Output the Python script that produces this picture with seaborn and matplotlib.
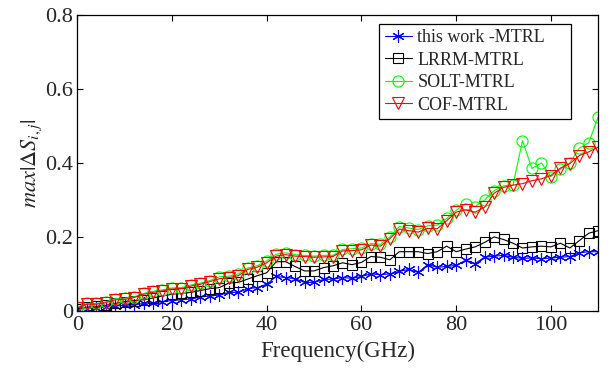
import numpy as np
import pandas as pd
import matplotlib
matplotlib.use("Agg")
import matplotlib.pyplot as plt
import seaborn as sns

# Frequency points (GHz), 2 GHz step
freq = list(range(0, 112, 2))

this_work = [0.005, 0.006, 0.008, 0.010, 0.013, 0.015, 0.016, 0.020, 0.022, 0.025,
             0.028, 0.030, 0.032, 0.038, 0.040, 0.043, 0.050, 0.050, 0.060, 0.063,
             0.072, 0.093, 0.090, 0.087, 0.077, 0.077, 0.085, 0.086, 0.090, 0.088,
             0.093, 0.100, 0.098, 0.100, 0.107, 0.112, 0.104, 0.125, 0.118, 0.120,
             0.123, 0.137, 0.128, 0.145, 0.148, 0.150, 0.145, 0.142, 0.143, 0.141,
             0.143, 0.145, 0.147, 0.157, 0.160, 0.160]

lrrm = [0.005, 0.010, 0.012, 0.015, 0.020, 0.025, 0.028, 0.030, 0.035, 0.040,
        0.045, 0.047, 0.050, 0.055, 0.060, 0.063, 0.075, 0.077, 0.086, 0.095,
        0.103, 0.133, 0.133, 0.120, 0.108, 0.108, 0.117, 0.122, 0.130, 0.125,
        0.131, 0.147, 0.145, 0.138, 0.160, 0.160, 0.160, 0.155, 0.160, 0.175,
        0.160, 0.167, 0.173, 0.185, 0.200, 0.193, 0.183, 0.170, 0.173, 0.175,
        0.173, 0.183, 0.170, 0.190, 0.210, 0.217]

solt = [0.010, 0.020, 0.020, 0.024, 0.033, 0.034, 0.038, 0.047, 0.053, 0.057,
        0.062, 0.063, 0.070, 0.075, 0.082, 0.092, 0.094, 0.100, 0.116, 0.122,
        0.135, 0.153, 0.157, 0.152, 0.150, 0.148, 0.150, 0.150, 0.166, 0.168,
        0.170, 0.182, 0.180, 0.200, 0.228, 0.224, 0.220, 0.230, 0.232, 0.250,
        0.272, 0.290, 0.282, 0.300, 0.325, 0.338, 0.340, 0.460, 0.385, 0.400,
        0.363, 0.383, 0.400, 0.440, 0.455, 0.525]

cof = [0.008, 0.018, 0.018, 0.022, 0.030, 0.031, 0.036, 0.045, 0.050, 0.054,
       0.059, 0.060, 0.067, 0.072, 0.079, 0.087, 0.090, 0.095, 0.112, 0.118,
       0.130, 0.148, 0.152, 0.148, 0.147, 0.145, 0.146, 0.147, 0.162, 0.163,
       0.165, 0.178, 0.175, 0.195, 0.221, 0.217, 0.213, 0.223, 0.222, 0.244,
       0.267, 0.273, 0.267, 0.280, 0.318, 0.334, 0.340, 0.344, 0.352, 0.357,
       0.366, 0.386, 0.398, 0.420, 0.430, 0.443]

series_names = ["this work -MTRL", "LRRM-MTRL", "SOLT-MTRL", "COF-MTRL"]
series_vals = [this_work, lrrm, solt, cof]
colors = ["#0000ff", "#000000", "#00ff00", "#ff0000"]
# MATLAB-like asterisk: 6-arm line marker
markers = [(6, 2, 0), "s", "o", "v"]
msizes = [9, 7, 8, 8]

sns.set_style("ticks")
plt.rcParams["font.family"] = ["Liberation Serif", "DejaVu Serif"]
plt.rcParams["mathtext.fontset"] = "stix"
plt.rcParams["xtick.direction"] = "in"
plt.rcParams["ytick.direction"] = "in"

fig = plt.figure(figsize=(6.08, 3.75), dpi=100)
ax = fig.add_axes([0.127, 0.171, 0.857, 0.789])

for name, vals, c, m, ms in zip(series_names, series_vals, colors, markers, msizes):
    sns.lineplot(x=freq, y=vals, ax=ax, color=c, marker=m, markersize=ms,
                 markerfacecolor="none", markeredgecolor=c, markeredgewidth=0.8,
                 linewidth=0.8, label=name)

ax.set_xlim(0, 110)
ax.set_ylim(0, 0.8)
ax.set_xticks([0, 20, 40, 60, 80, 100])
ax.set_yticks([0, 0.2, 0.4, 0.6, 0.8])
ax.set_yticklabels(["0", "0.2", "0.4", "0.6", "0.8"])
ax.tick_params(top=True, right=True, labelsize=16, length=4, width=0.8,
               color="black")
ax.tick_params(axis="x", pad=4)
ax.tick_params(axis="y", pad=3)
for s in ax.spines.values():
    s.set_color("black")
    s.set_linewidth(0.9)

ax.set_xlabel("Frequency(GHz)", fontsize=16.5, labelpad=4)
ax.set_ylabel(r"$max|\Delta S_{i,j}|$", fontsize=16, labelpad=1)

leg = ax.legend(loc="upper left", bbox_to_anchor=(0.580, 0.0, 0.3685, 0.970),
                mode="expand", borderaxespad=0,
                fontsize=13, fancybox=False, framealpha=1, edgecolor="black",
                handlelength=1.5, labelspacing=0.3, borderpad=0.3, handletextpad=0.3)
leg.get_frame().set_linewidth(0.9)

fig.savefig("out.png", dpi=100)
plt.close(fig)
